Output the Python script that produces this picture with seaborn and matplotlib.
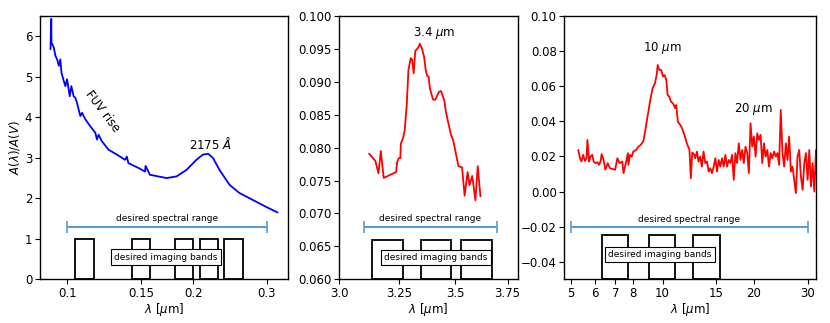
import numpy as np
import pandas as pd
import seaborn as sns
import matplotlib
matplotlib.use("Agg")
import matplotlib.pyplot as plt
from matplotlib.ticker import FixedLocator, FixedFormatter, NullLocator

# UV extinction curve (left panel)
uv_wave = [0.0911, 0.0915, 0.0916, 0.0928, 0.0936, 0.0945, 0.0954, 0.0962, 0.0968,
           0.0980, 0.0989, 0.0998, 0.1007, 0.1013, 0.1022, 0.1035, 0.1045, 0.1054,
           0.1064, 0.1074, 0.1084, 0.1104, 0.1134, 0.1166, 0.1177, 0.1187, 0.1209,
           0.1254, 0.1313, 0.1374, 0.1387, 0.1399, 0.1478, 0.1533, 0.1538, 0.1575,
           0.1650, 0.1727, 0.1824, 0.1926, 0.2035, 0.2110, 0.2169, 0.2228, 0.2311,
           0.2443, 0.2580, 0.2775, 0.2985, 0.3182]
uv_ext = [5.68, 6.43, 5.85, 5.72, 5.52, 5.43, 5.27, 5.43, 5.10,
          4.90, 4.77, 4.94, 4.69, 4.52, 4.77, 4.52, 4.48, 4.36,
          4.19, 4.03, 4.11, 3.95, 3.78, 3.62, 3.45, 3.57, 3.41,
          3.20, 3.08, 2.95, 3.03, 2.87, 2.75, 2.66, 2.80, 2.58,
          2.54, 2.50, 2.54, 2.70, 2.95, 3.08, 3.10, 3.00, 2.70,
          2.33, 2.13, 1.96, 1.79, 1.65]

# 3.4 micron feature (middle panel)
ali_wave = [3.122, 3.136, 3.148, 3.161, 3.171, 3.183, 3.236, 3.240, 3.247, 3.254,
            3.256, 3.266, 3.273, 3.282, 3.289, 3.299, 3.305, 3.312, 3.319, 3.332,
            3.339, 3.348, 3.358, 3.365, 3.372, 3.378, 3.384, 3.398, 3.408, 3.425,
            3.434, 3.449, 3.455, 3.463, 3.480, 3.490, 3.514, 3.531, 3.543, 3.557,
            3.566, 3.579, 3.594, 3.605, 3.618]
ali_ext = [0.0791, 0.0785, 0.0780, 0.0761, 0.0795, 0.0754, 0.0763, 0.0778, 0.0784, 0.0784,
           0.0806, 0.0815, 0.0827, 0.0867, 0.0918, 0.0936, 0.0934, 0.0913, 0.0947, 0.0952,
           0.0958, 0.0951, 0.0938, 0.0918, 0.0909, 0.0908, 0.0890, 0.0873, 0.0873, 0.0885,
           0.0886, 0.0872, 0.0857, 0.0844, 0.0819, 0.0811, 0.0772, 0.0770, 0.0727, 0.0763,
           0.0743, 0.0757, 0.0720, 0.0772, 0.0726]

# silicate features (right panel)
sil_wave = [5.28, 5.35, 5.41, 5.48, 5.55, 5.62, 5.66, 5.73, 5.79, 5.87, 5.93, 6.01,
            6.11, 6.18, 6.26, 6.30, 6.40, 6.48, 6.60, 6.71, 6.98, 7.10, 7.22, 7.37,
            7.44, 7.59, 7.69, 7.72, 7.81, 7.92, 8.01, 8.18, 8.33, 8.48, 8.65, 8.76,
            8.91, 9.09, 9.27, 9.44, 9.56, 9.64, 9.76, 9.90, 10.03, 10.15, 10.29, 10.39,
            10.52, 10.66, 10.82, 11.01, 11.09, 11.23, 11.43, 11.57, 11.80, 12.02, 12.26,
            12.39, 12.52, 12.69, 12.81, 12.98, 13.13, 13.30, 13.47, 13.64, 13.82, 14.00,
            14.18, 14.36, 14.54, 14.73, 14.92, 15.11, 15.30, 15.49, 15.69, 15.89, 16.10,
            16.30, 16.51, 16.72, 16.94, 17.15, 17.37, 17.59, 17.82, 18.05, 18.28, 18.51,
            18.75, 18.99, 19.23, 19.48, 19.73, 19.98, 20.24, 20.49, 20.76, 21.02, 21.29,
            21.57, 21.84, 22.12, 22.41, 22.69, 22.98, 23.28, 23.58, 23.88, 24.19, 24.49,
            24.81, 25.13, 25.45, 25.77, 26.10, 26.44, 26.77, 27.12, 27.46, 27.81, 28.17,
            28.53, 28.90, 29.27, 29.64, 30.02, 30.40, 30.79, 31.18, 31.58, 31.98]
sil_ext = [0.0237, 0.0190, 0.0171, 0.0209, 0.0175, 0.0190, 0.0294, 0.0171, 0.0199, 0.0209,
           0.0171, 0.0162, 0.0167, 0.0152, 0.0175, 0.0213, 0.0180, 0.0124, 0.0162, 0.0133,
           0.0124, 0.0190, 0.0162, 0.0171, 0.0105, 0.0171, 0.0219, 0.0152, 0.0209, 0.0199,
           0.0228, 0.0237, 0.0256, 0.0266, 0.0289, 0.0341, 0.0418, 0.0512, 0.0588, 0.0617,
           0.0664, 0.0721, 0.0693, 0.0693, 0.0655, 0.0664, 0.0636, 0.0550, 0.0541, 0.0512,
           0.0503, 0.0475, 0.0493, 0.0398, 0.0380, 0.0364, 0.0323, 0.0275, 0.0237, 0.0076,
           0.0222, 0.0213, 0.0190, 0.0228, 0.0171, 0.0199, 0.0142, 0.0228, 0.0162, 0.0171,
           0.0114, 0.0133, 0.0105, 0.0142, 0.0190, 0.0114, 0.0180, 0.0142, 0.0190, 0.0142,
           0.0209, 0.0142, 0.0180, 0.0162, 0.0209, 0.0067, 0.0219, 0.0162, 0.0275, 0.0180,
           0.0237, 0.0162, 0.0256, 0.0219, 0.0105, 0.0389, 0.0256, 0.0313, 0.0199, 0.0332,
           0.0294, 0.0323, 0.0162, 0.0275, 0.0199, 0.0237, 0.0142, 0.0219, 0.0190, 0.0228,
           0.0199, 0.0219, 0.0152, 0.0465, 0.0219, 0.0142, 0.0275, 0.0180, 0.0313, 0.0114,
           0.0142, 0.0067, -0.0009, 0.0199, 0.0237, 0.0085, 0.0010, 0.0162, 0.0219, 0.0067,
           0.0237, 0.0029, 0.0162, 0.0000, 0.0237]

# imaging bands (lower, upper edges) and spectral ranges
uv_bands = [(0.1045, 0.1155), (0.1425, 0.1575), (0.1805, 0.1995), (0.2071, 0.2289), (0.2375, 0.2625)]
ali_bands = [(3.136, 3.264), (3.342, 3.478), (3.528, 3.672)]
sil_bands = [(6.3, 7.7), (9.0, 11.0), (12.6, 15.4)]
uv_range = (0.1, 0.3)
ali_range = (3.1, 3.7)
sil_range = (5.0, 30.0)

sns.set_style("ticks")
plt.rcParams['font.family'] = ['DejaVu Sans']
plt.rcParams['mathtext.fontset'] = 'dejavusans'
for key in ['text.color', 'axes.labelcolor', 'xtick.color', 'ytick.color', 'axes.edgecolor']:
    plt.rcParams[key] = 'black'

fig = plt.figure(figsize=(8.3, 3.23), dpi=100)
ax1 = fig.add_axes([0.0482, 0.1353, 0.2988, 0.815])
ax2 = fig.add_axes([0.4084, 0.1353, 0.2151, 0.815])
ax3 = fig.add_axes([0.6799, 0.1353, 0.3033, 0.815])

range_color = '#5b9bd0'
tick_fs = 8.5


def draw_bands(ax, bands, bottom, top):
    lo = [b[0] for b in bands]
    width = [b[1] - b[0] for b in bands]
    ax.bar(lo, [top - bottom] * len(bands), width=width, bottom=bottom, align='edge',
           fill=False, edgecolor='black', linewidth=1.3, zorder=3)


def draw_range(ax, rng, y, ytext):
    mid = 0.5 * (rng[0] + rng[1])
    ax.errorbar([mid], [y], xerr=[[mid - rng[0]], [rng[1] - mid]], fmt='none',
                ecolor=range_color, elinewidth=1.5, capsize=4, capthick=1.2)
    ax.text(np.sqrt(rng[0] * rng[1]), ytext, 'desired spectral range', fontsize=6.5,
            ha='center', va='bottom')


def band_label(ax, x, y):
    ax.text(x, y, 'desired imaging bands', fontsize=6.5, ha='center', va='center',
            bbox=dict(facecolor='white', edgecolor='black', boxstyle='square,pad=0.35',
                      linewidth=0.8), zorder=5)


# left panel
ax1.set_xscale('log')
sns.lineplot(x=uv_wave, y=uv_ext, ax=ax1, color='blue', linewidth=1.3, estimator=None)
ax1.set_xlim(0.086, 0.337)
ax1.set_ylim(0, 6.5)
draw_bands(ax1, uv_bands, 0, 1)
draw_range(ax1, uv_range, 1.3, 1.38)
band_label(ax1, 0.172, 0.55)
ax1.text(0.121, 4.15, 'FUV rise', rotation=-53, fontsize=8.5, ha='center', va='center')
ax1.text(0.22, 3.35, r'2175 $\AA$', fontsize=8.5, ha='center', va='center')
ax1.xaxis.set_major_locator(FixedLocator([0.1, 0.15, 0.2, 0.3]))
ax1.xaxis.set_major_formatter(FixedFormatter(['0.1', '0.15', '0.2', '0.3']))
ax1.xaxis.set_minor_locator(NullLocator())
ax1.set_ylabel(r'$A(\lambda)/A(V)$', fontsize=8.5, labelpad=2)

# middle panel
ax2.set_xscale('log')
sns.lineplot(x=ali_wave, y=ali_ext, ax=ax2, color='red', linewidth=1.3, estimator=None)
ax2.set_xlim(3.0, 3.8)
ax2.set_ylim(0.06, 0.1)
draw_bands(ax2, ali_bands, 0.06, 0.066)
draw_range(ax2, ali_range, 0.068, 0.0686)
band_label(ax2, 3.41, 0.0633)
ax2.text(3.405, 0.0975, r'3.4 $\mu$m', fontsize=8.5, ha='center', va='center')
ax2.xaxis.set_major_locator(FixedLocator([3.0, 3.25, 3.5, 3.75]))
ax2.xaxis.set_major_formatter(FixedFormatter(['3.0', '3.25', '3.5', '3.75']))
ax2.xaxis.set_minor_locator(NullLocator())

# right panel
ax3.set_xscale('log')
sns.lineplot(x=sil_wave, y=sil_ext, ax=ax3, color='red', linewidth=1.3, estimator=None)
ax3.set_xlim(4.75, 32)
ax3.set_ylim(-0.05, 0.1)
draw_bands(ax3, sil_bands, -0.05, -0.025)
draw_range(ax3, sil_range, -0.02, -0.0185)
band_label(ax3, 9.8, -0.036)
ax3.text(10.0, 0.0816, r'10 $\mu$m', fontsize=8.5, ha='center', va='center')
ax3.text(19.9, 0.0469, r'20 $\mu$m', fontsize=8.5, ha='center', va='center')
ax3.xaxis.set_major_locator(FixedLocator([5, 6, 7, 8, 10, 15, 20, 30]))
ax3.xaxis.set_major_formatter(FixedFormatter(['5', '6', '7', '8', '10', '15', '20', '30']))
ax3.xaxis.set_minor_locator(NullLocator())

for ax in (ax1, ax2, ax3):
    ax.set_xlabel(r'$\lambda$ [$\mu$m]', fontsize=8.5, labelpad=1)
    ax.tick_params(labelsize=tick_fs, length=3.5, width=0.8, pad=2, colors='black')
    for s in ax.spines.values():
        s.set_linewidth(1.0)
        s.set_color('black')

fig.savefig('out.png', dpi=100)
